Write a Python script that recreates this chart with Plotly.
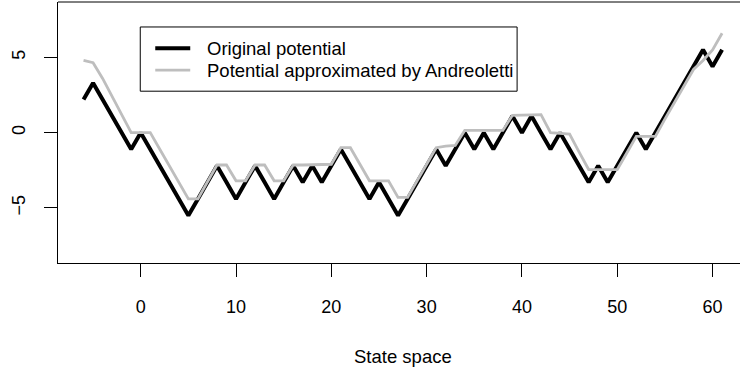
import plotly.graph_objects as go

# ---- data ----
states = list(range(-6, 62))
original = [2.2, 3.3, 2.2, 1.1, 0.0, -1.1, 0.0, -1.1, -2.2, -3.3, -4.4, -5.5, -4.4, -3.3, -2.2, -3.3,
            -4.4, -3.3, -2.2, -3.3, -4.4, -3.3, -2.2, -3.3, -2.2, -3.3, -2.2, -1.1, -2.2, -3.3, -4.4, -3.3,
            -4.4, -5.5, -4.4, -3.3, -2.2, -1.1, -2.2, -1.1, 0.0, -1.1, 0.0, -1.1, 0.0, 1.1, 0.0, 1.1,
            0.0, -1.1, 0.0, -1.1, -2.2, -3.3, -2.2, -3.3, -2.2, -1.1, 0.0, -1.1, 0.0, 1.1, 2.2, 3.3,
            4.4, 5.5, 4.4, 5.5]
approx = [4.8, 4.65, 3.6, 2.4, 1.15, 0.0, 0.0, 0.0, -1.1, -2.2, -3.3, -4.4, -4.4, -3.3, -2.15, -2.15,
          -3.2, -3.2, -2.15, -2.15, -3.2, -3.2, -2.15, -2.15, -2.15, -2.15, -2.1, -1.0, -1.0, -2.1, -3.2, -3.2,
          -3.2, -4.3, -4.3, -3.2, -2.1, -1.0, -0.9, -0.85, 0.15, 0.15, 0.15, 0.15, 0.15, 1.15, 1.15, 1.15,
          1.2, 0.0, -0.05, -0.1, -1.3, -2.45, -2.45, -2.45, -2.45, -1.35, -0.25, -0.25, -0.25, 0.9, 2.0, 3.1,
          4.2, 4.8, 5.5, 6.6]
name_original = "Original potential"
name_approx = "Potential approximated by Andreoletti"
x_ticks = [0, 10, 20, 30, 40, 50, 60]
y_ticks = [-5, 0, 5]
x_title = "State space"

# ---- layout geometry (pixels) ----
W, H = 740, 376
L, T, B = 57.7, 1.7, 263.0
PW, PH = W - L, B - T
FONT = "Liberation Sans, Arial, Helvetica, sans-serif"

def px(xp):
    return (xp - L) / PW

def py(yp):
    return (B - yp) / PH

fig = go.Figure()
fig.add_trace(go.Scatter(x=states, y=original, mode="lines", name=name_original,
                         line=dict(color="black", width=4), showlegend=False))
fig.add_trace(go.Scatter(x=states, y=approx, mode="lines", name=name_approx,
                         line=dict(color="#BEBEBE", width=2.8), showlegend=False))

shapes = [
    dict(type="line", xref="paper", yref="paper", x0=0, x1=1.05, y0=1, y1=1,
         line=dict(color="black", width=1)),
    dict(type="rect", xref="paper", yref="paper", x0=px(140), x1=px(517), y0=py(91), y1=py(26.7),
         line=dict(color="black", width=1), fillcolor="white"),
    dict(type="line", xref="paper", yref="paper", x0=px(155), x1=px(190), y0=py(48), y1=py(48),
         line=dict(color="black", width=4)),
    dict(type="line", xref="paper", yref="paper", x0=px(155), x1=px(190), y0=py(70), y1=py(70),
         line=dict(color="#BEBEBE", width=2.8)),
]
annotations = [
    dict(text=name_original, xref="paper", yref="paper", x=px(205), y=py(48), xanchor="left",
         yanchor="middle", showarrow=False, font=dict(family=FONT, size=18.5, color="black")),
    dict(text=name_approx, xref="paper", yref="paper", x=px(205), y=py(70), xanchor="left",
         yanchor="middle", showarrow=False, font=dict(family=FONT, size=18.5, color="black")),
    dict(text=x_title, xref="x", yref="paper", x=27.5, y=py(357), xanchor="center",
         yanchor="middle", showarrow=False, font=dict(family=FONT, size=18.5, color="black")),
]

fig.update_layout(
    width=W, height=H,
    margin=dict(l=L, r=0, t=T, b=H - B, pad=0),
    plot_bgcolor="white", paper_bgcolor="white",
    font=dict(family=FONT, size=18, color="black"),
    shapes=shapes, annotations=annotations,
    xaxis=dict(range=[-8.68, 62.88], tickvals=x_ticks, showgrid=False, zeroline=False,
               showline=True, linecolor="black", linewidth=1, ticks="outside", ticklen=13,
               tickcolor="black", tickwidth=1, ticklabelstandoff=14,
               tickfont=dict(family=FONT, size=18, color="black")),
    yaxis=dict(range=[-8.66, 8.68], tickvals=y_ticks, showgrid=False, zeroline=False,
               showline=True, linecolor="black", linewidth=1, ticks="outside", ticklen=13,
               tickcolor="black", tickwidth=1, tickangle=-90, ticklabelstandoff=12,
               tickfont=dict(family=FONT, size=18, color="black")),
)

fig.write_html("out.html")
